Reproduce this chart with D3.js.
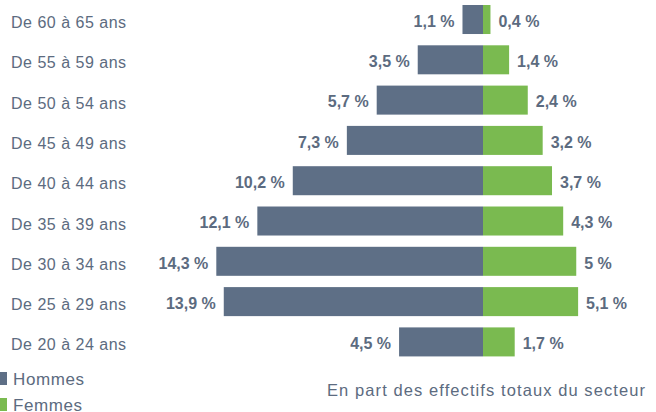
<!DOCTYPE html>
<html><head><meta charset="utf-8">
<script src="https://cdn.jsdelivr.net/npm/d3@7"></script>
<style>body{margin:0;background:#fff;}svg{display:block;}</style>
</head><body>
<svg id="c" width="656" height="412"></svg>
<script>
const categories = ["De 60 à 65 ans","De 55 à 59 ans","De 50 à 54 ans","De 45 à 49 ans","De 40 à 44 ans","De 35 à 39 ans","De 30 à 34 ans","De 25 à 29 ans","De 20 à 24 ans"];
const hommes = [1.1,3.5,5.7,7.3,10.2,12.1,14.3,13.9,4.5];
const femmes = [0.4,1.4,2.4,3.2,3.7,4.3,5,5.1,1.7];
const seriesNames = ["Hommes","Femmes"];
const note = "En part des effectifs totaux du secteur";

const colH = "#5e6f86", colF = "#7aba50", txt = "#5c6b80";
const svg = d3.select("#c");
const cx = 483, pxPer = 18.65;
const xL = d3.scaleLinear().domain([0,1]).range([cx, cx - pxPer]);
const xR = d3.scaleLinear().domain([0,1]).range([cx, cx + pxPer]);
const y = d3.scaleBand().domain(categories).range([-0.64, 362.06]).paddingInner(0.28).paddingOuter(0.14);
const fmt = v => String(v).replace(".", ",") + " %";
const bodyFont = "'Liberation Sans', Arial, sans-serif";

const g = svg.append("g");
categories.forEach((c,i)=>{
  const yy = y(c), h = y.bandwidth(), mid = yy + h/2;
  g.append("rect").attr("x", xL(hommes[i])).attr("y", yy).attr("width", cx - xL(hommes[i])).attr("height", h).attr("fill", colH);
  g.append("rect").attr("x", cx).attr("y", yy).attr("width", xR(femmes[i]) - cx).attr("height", h).attr("fill", colF);
  g.append("text").attr("x", xL(hommes[i]) - 8).attr("y", mid + 7.3).attr("text-anchor","end")
    .attr("font-family", bodyFont).attr("font-weight","bold").attr("font-size", 16).attr("fill", txt).text(fmt(hommes[i]));
  g.append("text").attr("x", xR(femmes[i]) + 8).attr("y", mid + 7.3).attr("text-anchor","start")
    .attr("font-family", bodyFont).attr("font-weight","bold").attr("font-size", 16).attr("fill", txt).text(fmt(femmes[i]));
  g.append("text").attr("x", 11).attr("y", mid + 8.5).attr("font-family", bodyFont).attr("font-size", 16).attr("letter-spacing", 0.5).attr("fill", txt).text(c);
});

const legY = [385, 411];
seriesNames.forEach((s,i)=>{
  svg.append("rect").attr("x", -6).attr("y", legY[i]-13).attr("width", 13).attr("height", 13).attr("fill", i===0?colH:colF);
  svg.append("text").attr("x", 13).attr("y", legY[i]).attr("font-family", bodyFont).attr("font-size", 17).attr("letter-spacing", 0.6).attr("fill", txt).text(s);
});
svg.append("text").attr("x", 327).attr("y", 396).attr("font-family", bodyFont).attr("font-size", 16.5)
  .attr("textLength", 318).attr("lengthAdjust", "spacing").attr("fill", txt).text(note);
</script>
</body></html>
